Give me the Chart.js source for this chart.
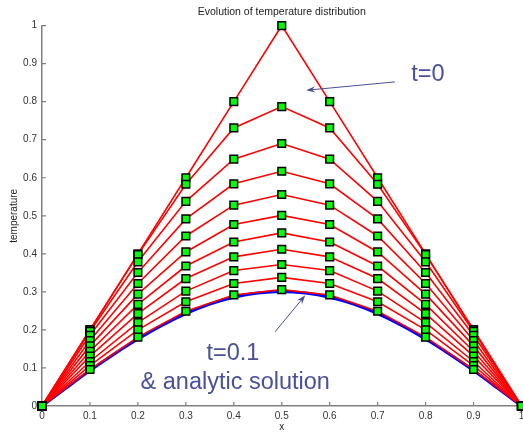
<!DOCTYPE html>
<html>
<head>
<meta charset="utf-8">
<script src="https://cdn.jsdelivr.net/npm/chart.js@4"></script>
<style>
    html, body { margin: 0; padding: 0; background: #ffffff; }
    canvas { display: block; }
</style>
</head>
<body>
<canvas id="tempChart" width="523" height="432"></canvas>
<script>
// grid positions along the rod
const X_POS = [0, 0.1, 0.2, 0.3, 0.4, 0.5, 0.6, 0.7, 0.8, 0.9, 1];
const X_TICKS = ["0", "0.1", "0.2", "0.3", "0.4", "0.5", "0.6", "0.7", "0.8", "0.9", "1"];
const Y_TICKS = ["0", "0.1", "0.2", "0.3", "0.4", "0.5", "0.6", "0.7", "0.8", "0.9", "1"];

// numerical temperature profiles, from t=0 down to t=0.1
const temp_t00 = [0, 0.200, 0.400, 0.600, 0.800, 1.000, 0.800, 0.600, 0.400, 0.200, 0];
const temp_t01 = [0, 0.200, 0.398, 0.583, 0.731, 0.787, 0.731, 0.583, 0.398, 0.200, 0];
const temp_t02 = [0, 0.196, 0.379, 0.538, 0.649, 0.690, 0.649, 0.538, 0.379, 0.196, 0];
const temp_t03 = [0, 0.186, 0.351, 0.492, 0.584, 0.617, 0.584, 0.492, 0.351, 0.186, 0];
const temp_t04 = [0, 0.172, 0.322, 0.447, 0.528, 0.556, 0.528, 0.447, 0.322, 0.172, 0];
const temp_t05 = [0, 0.158, 0.294, 0.405, 0.477, 0.501, 0.477, 0.405, 0.294, 0.158, 0];
const temp_t06 = [0, 0.144, 0.267, 0.368, 0.431, 0.455, 0.431, 0.368, 0.267, 0.144, 0];
const temp_t07 = [0, 0.131, 0.243, 0.335, 0.392, 0.412, 0.392, 0.335, 0.243, 0.131, 0];
const temp_t08 = [0, 0.117, 0.219, 0.302, 0.356, 0.372, 0.356, 0.302, 0.219, 0.117, 0];
const temp_t09 = [0, 0.106, 0.200, 0.274, 0.322, 0.338, 0.322, 0.274, 0.200, 0.106, 0];
const temp_t10 = [0, 0.096, 0.181, 0.249, 0.292, 0.306, 0.292, 0.249, 0.181, 0.096, 0];

// analytic solution at t=0.1 (finer sampling)
const ANALYTIC_X = [0, 0.05, 0.1, 0.15, 0.2, 0.25, 0.3, 0.35, 0.4, 0.45, 0.5,
                    0.55, 0.6, 0.65, 0.7, 0.75, 0.8, 0.85, 0.9, 0.95, 1];
const ANALYTIC_Y = [0, 0.047, 0.093, 0.136, 0.176, 0.212, 0.243, 0.268, 0.286, 0.297, 0.301,
                    0.297, 0.286, 0.268, 0.243, 0.212, 0.176, 0.136, 0.093, 0.047, 0];

const PROFILES = [temp_t00, temp_t01, temp_t02, temp_t03, temp_t04, temp_t05,
                  temp_t06, temp_t07, temp_t08, temp_t09, temp_t10];

const FONT = "'Liberation Sans', Arial, Helvetica, sans-serif";
const NOTE_COLOR = "#4a4f9a";
const AXIS_COLOR = "#808080";

function toPoints(xs, ys) {
    return xs.map((x, i) => ({ x, y: ys[i] }));
}

// MATLAB style ticks pointing into the plot
const innerTicks = {
    id: "innerTicks",
    beforeDatasetsDraw(chart) {
        const { ctx, chartArea, scales } = chart;
        ctx.save();
        ctx.strokeStyle = AXIS_COLOR;
        ctx.lineWidth = 1.2;
        ctx.beginPath();
        scales.x.ticks.forEach(t => {
            const px = scales.x.getPixelForValue(t.value);
            ctx.moveTo(px, chartArea.bottom);
            ctx.lineTo(px, chartArea.bottom - 4);
        });
        scales.y.ticks.forEach(t => {
            const py = scales.y.getPixelForValue(t.value);
            ctx.moveTo(chartArea.left, py);
            ctx.lineTo(chartArea.left + 4, py);
        });
        ctx.stroke();
        ctx.restore();
    }
};

function drawArrow(ctx, x1, y1, x2, y2) {
    const ang = Math.atan2(y2 - y1, x2 - x1);
    const len = 9, half = 3.2;
    ctx.beginPath();
    ctx.moveTo(x1, y1);
    ctx.lineTo(x2 - Math.cos(ang) * 5, y2 - Math.sin(ang) * 5);
    ctx.stroke();
    ctx.beginPath();
    ctx.moveTo(x2, y2);
    ctx.lineTo(x2 - len * Math.cos(ang) + half * Math.sin(ang), y2 - len * Math.sin(ang) - half * Math.cos(ang));
    ctx.lineTo(x2 - 6 * Math.cos(ang), y2 - 6 * Math.sin(ang));
    ctx.lineTo(x2 - len * Math.cos(ang) - half * Math.sin(ang), y2 - len * Math.sin(ang) + half * Math.cos(ang));
    ctx.closePath();
    ctx.fill();
}

// text notes with arrows, placed in data coordinates
const notes = {
    id: "notes",
    afterDatasetsDraw(chart) {
        const { ctx, scales: { x, y } } = chart;
        const px = v => x.getPixelForValue(v);
        const py = v => y.getPixelForValue(v);
        ctx.save();
        ctx.fillStyle = NOTE_COLOR;
        ctx.strokeStyle = NOTE_COLOR;
        ctx.lineWidth = 1;
        ctx.font = "23.5px " + FONT;
        ctx.textAlign = "center";
        ctx.textBaseline = "middle";
        ctx.fillText("t=0", px(0.805), py(0.872));
        ctx.fillText("t=0.1", px(0.398), py(0.139));
        ctx.fillText("& analytic solution", px(0.403), py(0.063));
        drawArrow(ctx, px(0.736), py(0.852), px(0.551), py(0.830));
        drawArrow(ctx, px(0.486), py(0.195), px(0.549), py(0.291));
        ctx.restore();
    }
};

const datasets = [];

// all green square markers on top of every line
datasets.push({
    label: "markers",
    data: PROFILES.flatMap(p => toPoints(X_POS, p)),
    showLine: false,
    pointStyle: "rect",
    pointRadius: 5.4,
    pointBackgroundColor: "#00ff00",
    pointBorderColor: "#000000",
    pointBorderWidth: 1.5,
    order: 0
});

PROFILES.forEach((p, i) => {
    datasets.push({
        label: "step " + i,
        data: toPoints(X_POS, p),
        borderColor: "#ff0000",
        borderWidth: 1.6,
        pointRadius: 0,
        tension: 0,
        order: 1
    });
});

datasets.push({
    label: "analytic",
    data: toPoints(ANALYTIC_X, ANALYTIC_Y),
    borderColor: "#0000ff",
    borderWidth: 3,
    pointRadius: 0,
    cubicInterpolationMode: "monotone",
    order: 2
});

const ctx = document.getElementById("tempChart");
new Chart(ctx, {
    type: "line",
    data: { datasets },
    options: {
        responsive: false,
        animation: false,
        clip: false,
        layout: {
            autoPadding: false,
            padding: { top: 0, right: 1.5, bottom: 0, left: 0 }
        },
        plugins: {
            legend: { display: false },
            tooltip: { enabled: false },
            title: {
                display: true,
                fullSize: false,
                text: "Evolution of temperature distribution",
                color: "#222222",
                font: { family: FONT, size: 10.5, weight: "normal" },
                padding: { top: 6, bottom: 7 }
            }
        },
        scales: {
            x: {
                type: "linear",
                min: 0,
                max: 1,
                afterFit: s => {
                    s.height = 26;
                    s.paddingLeft = 0;
                    s.paddingRight = 0;
                },
                afterBuildTicks: s => { s.ticks = X_POS.map(v => ({ value: v })); },
                ticks: {
                    padding: 4,
                    color: "#333333",
                    font: { family: FONT, size: 10 },
                    maxRotation: 0,
                    autoSkip: false,
                    callback: (v, i) => X_TICKS[i]
                },
                grid: { display: true, drawOnChartArea: false, drawTicks: false },
                border: { display: true, color: AXIS_COLOR, width: 1.5 },
                title: {
                    display: true,
                    text: "x",
                    color: "#222222",
                    font: { family: FONT, size: 10, lineHeight: 1 },
                    padding: { top: 0, bottom: 0 }
                }
            },
            y: {
                type: "linear",
                min: 0,
                max: 1,
                afterFit: s => {
                    s.width = 42;
                    s.paddingTop = 0;
                    s.paddingBottom = 0;
                },
                afterBuildTicks: s => { s.ticks = X_POS.map(v => ({ value: v })); },
                ticks: {
                    padding: 5,
                    color: "#333333",
                    font: { family: FONT, size: 10 },
                    autoSkip: false,
                    callback: (v, i) => Y_TICKS[i]
                },
                grid: { display: true, drawOnChartArea: false, drawTicks: false },
                border: { display: true, color: AXIS_COLOR, width: 1.5 },
                title: {
                    display: true,
                    text: "temperature",
                    color: "#222222",
                    font: { family: FONT, size: 10 },
                    padding: { top: 8, bottom: 0 }
                }
            }
        }
    },
    plugins: [innerTicks, notes]
});
</script>
</body>
</html>
